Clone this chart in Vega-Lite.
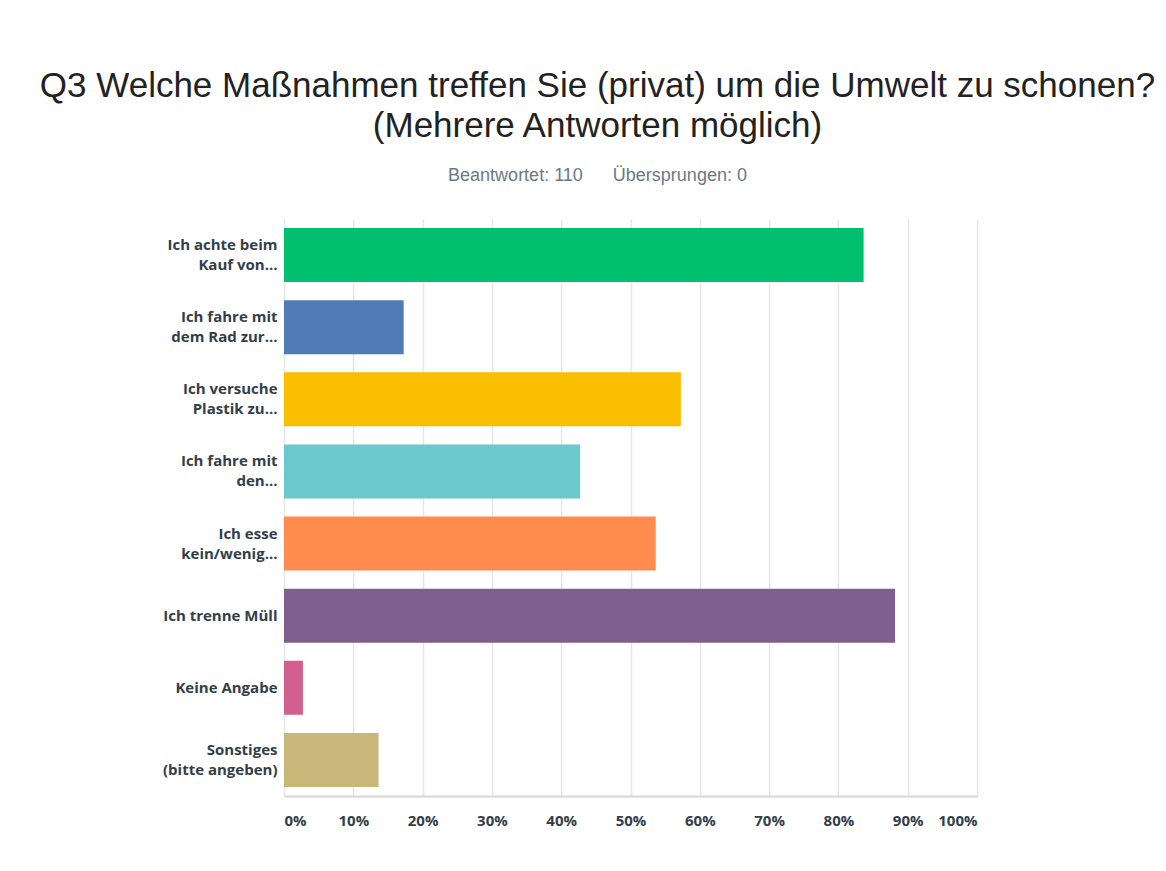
{
  "$schema": "https://vega.github.io/schema/vega-lite/v6.json",
  "width": 693,
  "height": 577,
  "autosize": {"type": "none"},
  "padding": {"left": 284, "top": 219, "right": 189, "bottom": 75},
  "background": "white",
  "title": {
    "text": ["Q3 Welche Maßnahmen treffen Sie (privat) um die Umwelt zu schonen?", "(Mehrere Antworten möglich)"],
    "subtitle": "\u00a0\u00a0\u00a0\u00a0\u00a0\u00a0\u00a0Beantwortet: 110\u00a0\u00a0\u00a0\u00a0\u00a0\u00a0Übersprungen: 0",
    "anchor": "middle",
    "frame": "group",
    "dx": -33,
    "offset": 34,
    "font": "Liberation Sans",
    "fontSize": 35,
    "fontWeight": "normal",
    "color": "#222222",
    "lineHeight": 40,
    "subtitleFont": "Liberation Sans",
    "subtitleFontSize": 18,
    "subtitleColor": "#6b7884",
    "subtitlePadding": 23
  },
  "data": {
    "values": [
      {"antwort": "Ich achte beim|Kauf von...", "anteil": 83.64, "farbe": "a"},
      {"antwort": "Ich fahre mit|dem Rad zur...", "anteil": 17.27, "farbe": "b"},
      {"antwort": "Ich versuche|Plastik zu...", "anteil": 57.27, "farbe": "c"},
      {"antwort": "Ich fahre mit|den...", "anteil": 42.73, "farbe": "d"},
      {"antwort": "Ich esse|kein/wenig...", "anteil": 53.64, "farbe": "e"},
      {"antwort": "Ich trenne Müll", "anteil": 88.18, "farbe": "f"},
      {"antwort": "Keine Angabe", "anteil": 2.73, "farbe": "g"},
      {"antwort": "Sonstiges|(bitte angeben)", "anteil": 13.64, "farbe": "h"}
    ]
  },
  "mark": {"type": "bar"},
  "encoding": {
    "y": {
      "field": "antwort",
      "type": "nominal",
      "sort": null,
      "scale": {"paddingInner": 0.25, "paddingOuter": 0.125},
      "axis": {
        "title": null,
        "domain": false,
        "ticks": false,
        "grid": false,
        "labelExpr": "split(datum.label, '|')",
        "labelFont": "Open Sans",
        "labelFontWeight": "bold",
        "labelFontSize": 15,
        "labelLineHeight": 20,
        "labelColor": "#333e48",
        "labelPadding": 7,
        "labelLimit": 200,
        "labelOffset": {"condition": {"test": "indexof(datum.label, '|') >= 0", "value": -10}, "value": 0}
      }
    },
    "x": {
      "field": "anteil",
      "type": "quantitative",
      "scale": {"domain": [0, 100]},
      "axis": {
        "title": null,
        "values": [0, 10, 20, 30, 40, 50, 60, 70, 80, 90, 100],
        "labelExpr": "datum.value + '%'",
        "labelFlush": true,
        "labelFont": "Open Sans",
        "labelFontWeight": "bold",
        "labelFontSize": 15,
        "labelColor": "#333e48",
        "labelPadding": 17,
        "ticks": false,
        "grid": true,
        "gridColor": "#e6e6e6",
        "gridWidth": 1.5,
        "domain": true,
        "domainColor": "#d5d5d5",
        "domainWidth": 2
      }
    },
    "color": {
      "field": "farbe",
      "type": "nominal",
      "scale": {
        "domain": ["a", "b", "c", "d", "e", "f", "g", "h"],
        "range": ["#00bf6f", "#507cb6", "#f9be00", "#6bc8cd", "#ff8b4f", "#7f5f90", "#d25f90", "#c9b77a"]
      },
      "legend": null
    }
  },
  "config": {
    "view": {"stroke": null}
  }
}
